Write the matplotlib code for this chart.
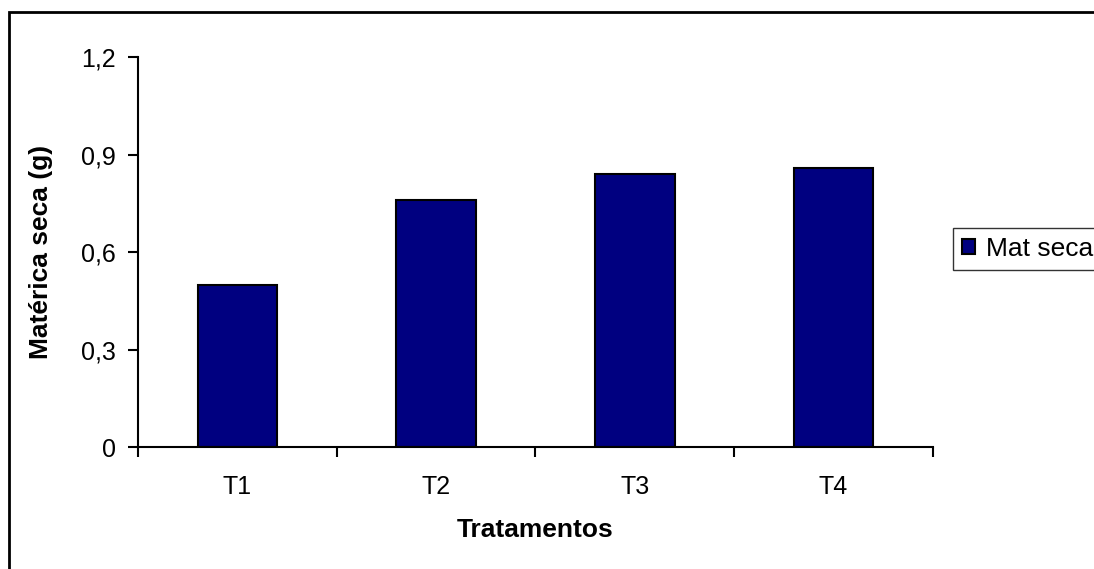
import matplotlib.pyplot as plt
from matplotlib.patches import Rectangle

# values
tratamentos = ["T1", "T2", "T3", "T4"]
mat_seca = [0.50, 0.76, 0.84, 0.86]
y_ticks = [0, 0.3, 0.6, 0.9, 1.2]
y_tick_labels = ["0", "0,3", "0,6", "0,9", "1,2"]

plt.rcParams['font.family'] = ['Liberation Sans', 'DejaVu Sans']

fig = plt.figure(figsize=(10.94, 5.69), dpi=100)
ax = fig.add_axes([0.1261, 0.2144, 0.7267, 0.6854])

x = list(range(len(tratamentos)))
bars = ax.bar(x, mat_seca, width=0.40, color='#000080', edgecolor='black',
              linewidth=1.5, label="Mat seca")

ax.set_xlim(-0.5, len(tratamentos) - 0.5)
ax.set_ylim(0, 1.2)

# category ticks sit between the bars, labels under the bars
ax.set_xticks([i - 0.5 for i in range(len(tratamentos) + 1)])
ax.set_xticklabels([])
ax.set_xticks(x, minor=True)
ax.set_xticklabels(tratamentos, minor=True, fontsize=18)
ax.tick_params(axis='x', which='minor', length=0, pad=20)
ax.tick_params(axis='x', which='major', length=7, width=1.5, direction='out')

ax.set_yticks(y_ticks)
ax.set_yticklabels(y_tick_labels, fontsize=18)
ax.tick_params(axis='y', length=7, width=1.5, direction='out', pad=9)

for s in ['top', 'right']:
    ax.spines[s].set_visible(False)
for s in ['left', 'bottom']:
    ax.spines[s].set_linewidth(1.5)

ax.set_ylabel("Matérica seca (g)", fontsize=19, fontweight='bold', labelpad=20)
ax.set_xlabel("Tratamentos", fontsize=19, fontweight='bold', labelpad=14)

# outer chart frame (cropped: only top and left edges visible)
fig.patches.append(Rectangle((9 / 1094, -0.1), 1.2, 1.1 - 12 / 569,
                             transform=fig.transFigure, fill=False,
                             edgecolor='black', linewidth=2, zorder=0))

fig.legend(handles=[bars], labels=["Mat seca"], loc='center left',
           bbox_to_anchor=(953 / 1094, 1 - 249 / 569), fontsize=19,
           frameon=True, fancybox=False, edgecolor='black',
           handlelength=0.5, handleheight=0.5, handletextpad=0.4,
           borderpad=0.35, borderaxespad=0)

fig.savefig("out.png", dpi=100)
